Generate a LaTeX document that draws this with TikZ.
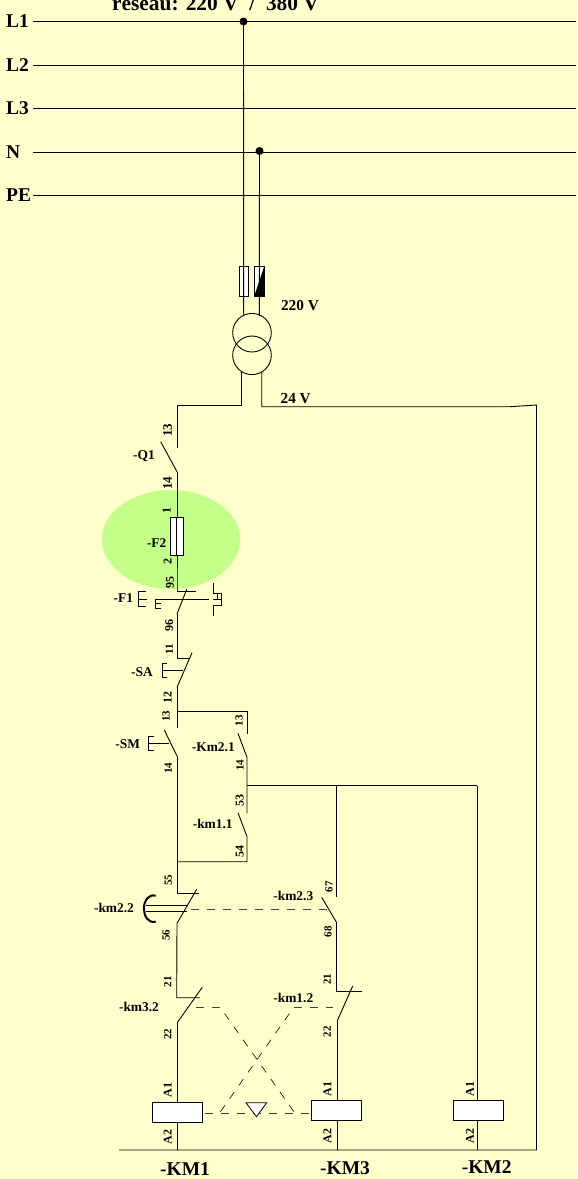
\documentclass[tikz,border=0pt]{standalone}
\usepackage{fontspec}
\setmainfont{Liberation Serif}
\definecolor{bgyellow}{HTML}{FFFFCC}
\definecolor{spotgreen}{HTML}{C4FF8A}
\definecolor{wirered}{HTML}{8A2A1A}
\tikzset{
  wire/.style={draw=black,line width=0.9pt},
  linkdash/.style={draw=black!75,line width=0.9pt,dash pattern=on 8pt off 8pt},
  crossdash/.style={draw=black,line width=0.6pt,dash pattern=on 8pt off 8pt,dash phase=8pt},
  txt/.style={inner sep=0pt,font=\bfseries\fontsize{13.4}{13.4}\selectfont},
  volt/.style={inner sep=0pt,font=\bfseries\fontsize{15.3}{15.3}\selectfont},
  num/.style={inner sep=0pt,rotate=90,font=\bfseries\fontsize{12}{12}\selectfont},
  numsmall/.style={num,font=\bfseries\fontsize{11}{11}\selectfont},
  phase/.style={inner sep=0pt,anchor=west,font=\bfseries\fontsize{19.5}{19.5}\selectfont},
  coilname/.style={inner sep=0pt,font=\bfseries\fontsize{19.5}{19.5}\selectfont},
  coil/.style={draw=black,fill=white,line width=0.9pt,minimum width=50pt,minimum height=20pt,inner sep=0pt},
  fuse/.style={draw=black,fill=white,line width=0.8pt,minimum width=9.5pt,minimum height=30pt,inner sep=0pt},
}
\begin{document}
\begin{tikzpicture}[x=1pt,y=-1pt]
    \useasboundingbox[fill=bgyellow] (0,0) rectangle (578,1179);
    \fill[spotgreen] (170.8,539.5) ellipse (69.2 and 49.5);

    % reseau
    \node[inner sep=0pt,anchor=base,font=\bfseries\fontsize{21.4}{21.4}\selectfont] (title) at (215.5,10) {réseau: 220 V~~/~~380 V};
    \foreach \ph/\yy in {L1/21.5,L2/65,L3/108.5,N/152,PE/195.5}{
      \node[phase] (lab\ph) at (6,\yy) {\ph};
      \coordinate (in\ph) at (33,\yy);
      \coordinate (out\ph) at (576,\yy);
      \draw[wire] (in\ph) -- (out\ph);
    }
    \coordinate (tapA) at (243.5,21.5);
    \coordinate (tapB) at (259.5,151);
    \fill (tapA) circle (4);
    \fill (tapB) circle (4);

    % fusibles + transfo
    \node[fuse] (fuseA) at (243.7,281) {};
    \node[fuse] (fuseB) at (259.3,281) {};
    \fill (fuseB.south west) -- (fuseB.north east) -- (fuseB.south east) -- cycle;
    \draw[wire] (tapA) -- (243.7,316);
    \draw[wire] (tapB) -- (259.3,316);
    \draw[wire] (252,332.7) circle (19.3);
    \draw[wire] (252,355.3) circle (19.3);
    \node[volt] (volt220) at (300,305.7) {220 V};
    \node[volt] (volt24) at (295.7,399) {24 V};

    % alimentation 24 V
    \coordinate (secA) at (241.3,371);
    \coordinate (secB) at (261.7,372);
    \coordinate (busEnd) at (536.5,1150);
    \coordinate (busStart) at (119,1150);
    \draw[wire] (secB) -- (261.7,406.7) -- (510,406.7) -- (536.5,405) -- (busEnd) -- (busStart);
    \draw[wire] (secA) -- (241.3,405) -- (177,405) -- (177,448);

    % Q1
    \coordinate (q1a) at (177,471.7);
    \draw[wire] (160.7,441.7) -- (q1a);
    \node[num,font=\bfseries\fontsize{13}{13}\selectfont] (n13a) at (167.7,430) {13};
    \node[txt] (q1) at (144,455.7) {-Q1};
    \node[num,font=\bfseries\fontsize{13}{13}\selectfont] (n14a) at (167.7,483) {14};

    % F2
    \coordinate (f1top) at (177,591.7);
    \draw[wire] (q1a) -- (177,568);
    \draw[draw=wirered,line width=0.9pt] (177,568) -- (f1top);
    \node[fuse,minimum width=13pt,minimum height=38.4pt] (f2) at (176.8,536.5) {};
    \draw[wire] (f2.north) -- (f2.south);
    \node[num] (n1) at (166.7,510) {1};
    \node[txt] (f2lab) at (156.7,543) {-F2};
    \node[num] (n2) at (167.7,561.7) {2};
    \node[num] (n95) at (170,582.7) {95};

    % F1
    \coordinate (f1a) at (177,614);
    \draw[wire] (f1top) -- (195.7,591.7);
    \draw[wire] (f1a) -- (186.7,589.3);
    \node[txt] (f1) at (123.3,598.3) {-F1};
    \draw[wire] (145.5,591) -- (138.3,591) -- (138.3,606.5) -- (145.5,606.5);
    \draw[wire] (138.3,599) -- (147,599);
    \draw[wire] (161,603.8) -- (155,603.8);
    \draw[wire] (161,608.3) -- (155,608.3) -- (155,599) -- (209.3,599);
    \draw[wire] (213,583) -- (213,593.3) -- (221.5,593.3) -- (221.5,605) -- (213,605) -- (213,615.7);
    \draw[wire] (213,599) -- (221,599);
    \draw[wire] (217,593.3) -- (217,599);
    \node[num] (n96) at (169.3,625) {96};

    % SA
    \coordinate (sa) at (177,687.3);
    \draw[wire] (f1a) -- (177,658.3) -- (190,658.3);
    \draw[wire] (sa) -- (192,652.7);
    \node[numsmall] (n11a) at (169.3,649.3) {11};
    \node[txt] (salab) at (142,671.7) {-SA};
    \draw[wire] (166.7,663.3) -- (162.3,663.3) -- (162.3,677.3) -- (166.7,677.3);
    \draw[wire] (162.3,670.3) -- (183.3,670.3);
    \node[num] (n12a) at (167.7,697.3) {12};

    % SM + auto-maintien
    \coordinate (sm) at (177,756);
    \coordinate (hold) at (247,785.7);
    \draw[wire] (sa) -- (177,728.3);
    \draw[wire] (177,711) -- (247,711) -- (247,734);
    \draw[wire] (164.3,730) -- (sm);
    \node[numsmall] (n13b) at (166,716) {13};
    \node[numsmall] (n13c) at (239,720.7) {13};
    \node[txt] (smlab) at (127.7,744) {-SM};
    \draw[wire] (153.7,736.7) -- (148.7,736.7) -- (148.7,750) -- (153.7,750);
    \draw[wire] (148.7,743) -- (169.3,743);
    \node[numsmall] (n14b) at (168.3,768) {14};
    \draw[wire] (238,733.3) -- (247,757.3) -- (247,813.3);
    \node[txt] (km21) at (213.3,746.7) {-Km2.1};
    \node[numsmall] (n14c) at (240,765) {14};
    \node[num] (n53) at (239.7,800) {53};
    \node[txt] (km11) at (212.7,824) {-km1.1};
    \draw[wire] (238,812.7) -- (247,836.7) -- (247,861.7) -- (177,861.7);
    \node[num] (n54) at (239.7,851.7) {54};
    \draw[wire] (sm) -- (177,893.3) -- (199.3,893.3);
    \node[numsmall] (n55) at (168.3,880) {55};

    % km2.2
    \coordinate (km22) at (177,923.3);
    \draw[wire] (km22) -- (196.7,889.3);
    \draw[line width=2pt] (155.7,895.7) .. controls (140,892) and (140,925) .. (155.7,921.7);
    \draw[wire] (146,905) -- (186.7,905);
    \draw[wire] (146,911) -- (186.7,911);
    \draw[linkdash] (326.7,909) -- (186,909);
    \node[txt] (km22lab) at (114,908) {-km2.2};
    \node[numsmall] (n56) at (166,935) {56};

    % km2.3
    \coordinate (km23) at (336.7,922.7);
    \draw[wire] (hold) -- (477.3,785.7);
    \draw[wire] (336.7,785.7) -- (336.7,897.3);
    \draw[wire] (321.7,897.3) -- (km23);
    \node[txt] (km23lab) at (293.3,896) {-km2.3};
    \node[numsmall] (n67) at (329,886.7) {67};
    \node[numsmall] (n68) at (328,931.7) {68};

    % km3.2 + km1.2
    \coordinate (km32) at (177.7,1022);
    \coordinate (km12) at (337.3,1020.7);
    \draw[wire] (km22) -- (176.7,997.7) -- (200,997.7);
    \draw[wire] (km32) -- (202.3,987.3);
    \draw[wire] (km23) -- (336.7,991.7) -- (361.7,991.7);
    \draw[wire] (km12) -- (352.7,986);
    \node[numsmall] (n21a) at (167.7,981.7) {21};
    \node[numsmall] (n22a) at (167.7,1034) {22};
    \node[numsmall] (n21b) at (327.3,979.3) {21};
    \node[numsmall] (n22b) at (327.3,1031.7) {22};
    \node[txt] (km32lab) at (139,1007) {-km3.2};
    \node[txt] (km12lab) at (293.3,998) {-km1.2};
    \draw[linkdash] (220,1007) -- (186.7,1007);
    \draw[linkdash] (294,1007) -- (333.3,1007);
    \draw[crossdash] (220,1007) -- (295,1113.3);
    \draw[crossdash] (294,1007) -- (219.3,1113.3);

    % bobines
    \draw[linkdash] (204.7,1113.5) -- (310,1113.5);
    \node[coil] (KM1) at (177.2,1112) {};
    \node[coil] (KM3) at (336.5,1110.8) {};
    \node[coil] (KM2) at (478.5,1110.3) {};
    \draw[draw=black,fill=white,line width=0.8pt] (246,1102.7) -- (266.7,1102.7) -- (256.5,1116.7) -- cycle;
    \draw[wire] (km32) -- (KM1.north -| km32);
    \draw[wire] (KM1.south -| km32) -- (177.7,1150);
    \draw[wire] (km12) -- (KM3.north -| km12);
    \draw[wire] (KM3.south -| km12) -- (337.3,1150);
    \draw[wire] (477.3,785.7) -- (477.3,1100.3);
    \draw[wire] (477.3,1120.3) -- (477.3,1150);
    \foreach \nm/\xx/\ya/\yb in {a/167.7/1090/1136.7,b/327.3/1089/1135.7,c/470/1089/1136}{
      \node[num] (aa\nm) at (\xx,\ya) {A1};
      \node[num] (ab\nm) at (\xx,\yb) {A2};
    }
    \node[coilname] (km1name) at (185,1169) {-KM1};
    \node[coilname] (km3name) at (345,1168) {-KM3};
    \node[coilname] (km2name) at (486.7,1166.7) {-KM2};

\end{tikzpicture}
\end{document}
